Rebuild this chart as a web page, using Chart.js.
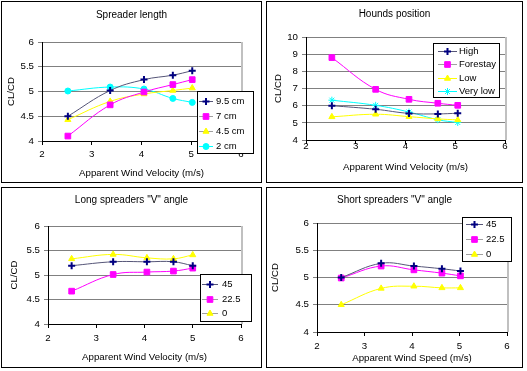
<!DOCTYPE html>
<html>
<head>
<meta charset="utf-8">
<script src="https://cdn.jsdelivr.net/npm/chart.js@4"></script>
<style>
body { margin: 0; background: #fff; width: 527px; height: 371px; position: relative; overflow: hidden; }
.panel { position: absolute; border: 1px solid #000; box-sizing: border-box; background: #fff; }
.panel canvas { position: absolute; left: 0; top: 0; }
</style>
</head>
<body>
<div class="panel" style="left:1px;top:1px;width:261px;height:182px"><canvas id="c1" width="259" height="180"></canvas></div>
<div class="panel" style="left:266px;top:1px;width:257px;height:182px"><canvas id="c2" width="255" height="180"></canvas></div>
<div class="panel" style="left:1px;top:187px;width:261px;height:181px"><canvas id="c3" width="259" height="179"></canvas></div>
<div class="panel" style="left:266px;top:187px;width:257px;height:181px"><canvas id="c4" width="255" height="179"></canvas></div>
<script>
// --- data ---
// Spreader length
const speed1 = [2.52, 3.37, 4.05, 4.63, 5.02];
const len95 = [4.50, 5.02, 5.24, 5.33, 5.42];
const len7 = [4.10, 4.73, 4.99, 5.14, 5.24];
const len45 = [4.43, 4.80, 4.95, 5.02, 5.07];
const len2 = [5.01, 5.09, 5.05, 4.86, 4.78];

// Hounds position
const speed2 = [2.52, 3.40, 4.07, 4.65, 5.05];
const houndsHigh = [6.00, 5.79, 5.55, 5.52, 5.56];
const houndsForestay = [8.80, 6.95, 6.37, 6.14, 6.02];
const houndsLow = [5.35, 5.50, 5.36, 5.23, 5.17];
const houndsVeryLow = [6.32, 6.02, 5.63, 5.18, 5.02];

// Long spreaders "V" angle
const speed3 = [2.49, 3.35, 4.05, 4.60, 5.00];
const long45 = [5.19, 5.27, 5.27, 5.27, 5.19];
const long225 = [4.67, 5.01, 5.06, 5.08, 5.14];
const long0 = [5.33, 5.42, 5.35, 5.33, 5.41];

// Short spreaders "V" angle
const speed4 = [2.51, 3.35, 4.04, 4.63, 5.02];
const short45 = [5.00, 5.26, 5.21, 5.16, 5.12];
const short225 = [4.99, 5.21, 5.14, 5.08, 5.03];
const short0 = [4.50, 4.80, 4.84, 4.81, 4.81];

const FONT = '"Liberation Sans", Arial, sans-serif';
Chart.defaults.font.family = FONT;
Chart.defaults.font.size = 9.7;
Chart.defaults.color = '#000';

const NAVY = '#000080', NAVY_LINE = '#555577', PINK = '#ff00ff', YELLOW = '#ffff00', CYAN = '#00ffff', KEY_GRAY = '#a0a0a0';

function series(label, xs, ys, color, line, key, style, radius, bw) {
    return {
        label: label,
        data: xs.map((x, i) => ({ x: x, y: ys[i] })),
        borderColor: line,
        borderWidth: 1,
        keyLine: key,
        pointStyle: style,
        pointRadius: radius,
        pointHoverRadius: radius,
        pointBackgroundColor: color,
        pointBorderColor: color,
        pointBorderWidth: bw || 1,
        tension: 0.4,
        fill: false
    };
}

function drawMarker(ctx, ds, x, y) {
    ctx.save();
    ctx.fillStyle = ds.pointBackgroundColor;
    ctx.strokeStyle = ds.pointBorderColor;
    ctx.lineWidth = ds.pointBorderWidth;
    if (Chart.helpers && Chart.helpers.drawPoint) {
        Chart.helpers.drawPoint(ctx, { pointStyle: ds.pointStyle, radius: ds.pointRadius, borderWidth: ds.pointBorderWidth, rotation: 0 }, x, y);
    } else {
        ctx.fillRect(x - 2.5, y - 2.5, 5, 5);
    }
    ctx.restore();
}

// title, plot-area right edge and boxed legend, Excel style
const panelPlugin = {
    id: 'panel',
    afterDraw(chart, args, opts) {
        const ctx = chart.ctx, a = chart.chartArea;
        ctx.save();
        ctx.strokeStyle = '#c0c0c0';
        ctx.lineWidth = 2;
        ctx.beginPath();
        ctx.moveTo(a.right + 1, a.top);
        ctx.lineTo(a.right + 1, a.bottom);
        ctx.stroke();

        ctx.fillStyle = '#000';
        ctx.font = '10px ' + FONT;
        ctx.textAlign = 'center';
        ctx.textBaseline = 'middle';
        ctx.fillText(opts.title, chart.width / 2, opts.titleY);

        const L = opts.legend;
        ctx.font = '9.5px ' + FONT;
        ctx.fillStyle = '#fff';
        ctx.fillRect(L.x, L.y, L.w, L.h);
        ctx.strokeStyle = '#000';
        ctx.lineWidth = 1;
        ctx.strokeRect(L.x + 0.5, L.y + 0.5, L.w - 1, L.h - 1);
        chart.data.datasets.forEach((ds, i) => {
            const y = Math.round(L.y + L.first + L.step * i) + 0.5;
            ctx.strokeStyle = ds.keyLine;
            ctx.lineWidth = 1;
            ctx.beginPath();
            ctx.moveTo(L.x + L.l0, y);
            ctx.lineTo(L.x + L.l1, y);
            ctx.stroke();
            drawMarker(ctx, ds, L.x + (L.l0 + L.l1) / 2, y);
            ctx.fillStyle = '#000';
            ctx.textAlign = 'left';
            ctx.fillText(ds.label, L.x + L.tx, y);
        });
        ctx.restore();
    }
};

function makeChart(id, datasets, yMin, yMax, yStep, xTitle, box, panel) {
    return new Chart(document.getElementById(id), {
        type: 'line',
        data: { datasets: datasets },
        options: {
            responsive: false,
            animation: false,
            devicePixelRatio: 1,
            layout: { padding: { left: 0, top: box.top, right: box.right, bottom: 0 } },
            plugins: { legend: { display: false }, tooltip: { enabled: false }, panel: panel },
            scales: {
                x: {
                    type: 'linear', min: 2, max: 6,
                    ticks: { stepSize: 1, padding: box.xtp, callback: v => String(v) },
                    grid: { drawOnChartArea: false, tickLength: 4, color: '#000' },
                    border: { color: '#000' },
                    title: { display: true, text: xTitle, padding: { top: 0, bottom: box.xtitle } },
                    afterFit: s => { s.height = box.xh; }
                },
                y: {
                    min: yMin, max: yMax,
                    ticks: { stepSize: yStep, padding: 4, callback: v => String(+v.toFixed(2)) },
                    grid: { color: '#808080', tickLength: 4 },
                    border: { color: '#000' },
                    title: { display: true, text: 'CL/CD', padding: { top: box.ytitle, bottom: 0 } },
                    afterFit: s => { s.width = box.yw; }
                }
            }
        },
        plugins: [panelPlugin]
    });
}

makeChart('c1', [
    series('9.5 cm', speed1, len95, NAVY, NAVY_LINE, NAVY_LINE, 'cross', 3.5, 2),
    series('7 cm', speed1, len7, PINK, PINK, KEY_GRAY, 'rect', 4),
    series('4.5 cm', speed1, len45, YELLOW, YELLOW, KEY_GRAY, 'triangle', 3.5),
    series('2 cm', speed1, len2, CYAN, CYAN, CYAN, 'circle', 3)
], 4, 6, 0.5, 'Apparent Wind Velocity (m/s)',
    { top: 40, right: 20, yw: 40, xh: 41, xtp: 4, xtitle: 3, ytitle: 4 },
    { title: 'Spreader length', titleY: 13,
      legend: { x: 195, y: 89, w: 57, h: 63, first: 10, step: 15, l0: 2, l1: 16, tx: 19 } });

makeChart('c2', [
    series('High', speed2, houndsHigh, NAVY, NAVY_LINE, NAVY_LINE, 'cross', 3.5, 2),
    series('Forestay', speed2, houndsForestay, PINK, PINK, KEY_GRAY, 'rect', 4),
    series('Low', speed2, houndsLow, YELLOW, YELLOW, YELLOW, 'triangle', 3.5),
    series('Very low', speed2, houndsVeryLow, CYAN, CYAN, CYAN, 'star', 3.5)
], 4, 10, 1, 'Apparent Wind Velocity (m/s)',
    { top: 35, right: 17, yw: 39, xh: 42, xtp: -3, xtitle: 9, ytitle: 6 },
    { title: 'Hounds position', titleY: 12,
      legend: { x: 166, y: 41, w: 67, h: 55, first: 8, step: 13.4, l0: 5, l1: 24, tx: 26 } });

makeChart('c3', [
    series('45', speed3, long45, NAVY, NAVY_LINE, NAVY_LINE, 'cross', 3.5, 2),
    series('22.5', speed3, long225, PINK, PINK, KEY_GRAY, 'rect', 4),
    series('0', speed3, long0, YELLOW, YELLOW, KEY_GRAY, 'triangle', 3.5)
], 4, 6, 0.5, 'Apparent Wind Velocity (m/s)',
    { top: 38, right: 20, yw: 46, xh: 43, xtp: 5, xtitle: 4, ytitle: 7 },
    { title: 'Long spreaders "V" angle', titleY: 12,
      legend: { x: 198, y: 86, w: 52, h: 48, first: 10, step: 14.5, l0: 2, l1: 18, tx: 22 } });

makeChart('c4', [
    series('45', speed4, short45, NAVY, NAVY_LINE, NAVY_LINE, 'cross', 3.5, 2),
    series('22.5', speed4, short225, PINK, PINK, KEY_GRAY, 'rect', 4),
    series('0', speed4, short0, YELLOW, YELLOW, KEY_GRAY, 'triangle', 3.5)
], 4, 6, 0.5, 'Apparent Wind Speed (m/s)',
    { top: 35, right: 15, yw: 50, xh: 35, xtp: 5, xtitle: 3, ytitle: 3 },
    { title: 'Short spreaders "V" angle', titleY: 12,
      legend: { x: 195, y: 29, w: 50, h: 45, first: 7, step: 15, l0: 4, l1: 21, tx: 24 } });
</script>
</body>
</html>
